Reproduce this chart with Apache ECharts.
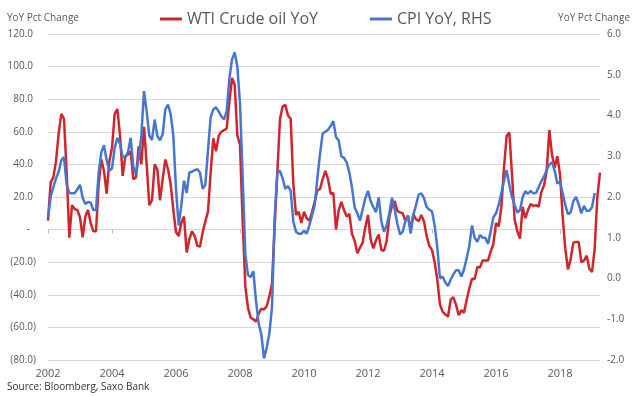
<!DOCTYPE html>
<html>
<head>
<meta charset="utf-8">
<script src="https://cdn.jsdelivr.net/npm/echarts@6/dist/echarts.min.js"></script>
<style>
  html, body { margin: 0; padding: 0; background: #fff; }
  #chart { width: 632px; height: 396px; }
</style>
</head>
<body>
<div id="chart"></div>
<script>
// monthly, Jan 2002 .. Apr 2019
const startYear = 2002
const monthCount = 208
const months = []
for (let i = 0; i < monthCount; i++) {
  const y = startYear + Math.floor(i / 12)
  const m = (i % 12) + 1
  months.push(y + '-' + (m < 10 ? '0' + m : m))
}

// WTI crude oil YoY, % (left axis)
const wtiYoY = [
  5.5, 29, 32, 42, 59, 71, 68, 35, -5, 15, 12.6, 12,
  7.5, -4.7, 8, 12, 4, -1, -1, 28, 43, 36, 22, 42,
  50, 71, 74, 58, 33, 45, 46, 48, 31, 32, 51, 40,
  63, 40, 15, 18, 40, 37, 18, 31, 43, 37, 28, 12,
  -1.5, -4, 4, 8, -14, -6, -1, -4, -9.8, -10.5, -1.6, 5,
  11, 35, 56, 48, 57.5, 60, 61, 62, 78, 93, 89, 58,
  52, 5, -35, -48, -54, -55, -56.5, -51.5, -48.5, -49, -47, -41,
  -33, 2, 35, 68, 75.5, 76.5, 70, 68, 28, 9, 11, 4,
  11, 7, 5.5, 10.6, 17, 24, 25, 31, 36, 31, 22, 22.5,
  0, 11.6, 17, 12, 8, 9.6, -2.6, -7, -14.5, -11, -8, 1.4,
  9, -6, -11.5, -6.5, -3, -12.5, -13, -7, 8, 14.5, 17.5, 11.5,
  10.6, 10, 5.5, 8.5, 0, 9.6, 6.3, 5.2, 9, 5, -4, -10,
  -12.5, -20, -31, -46, -50.5, -52, -53.3, -43, -41.4, -46, -52.5, -49.5,
  -51, -43, -36, -30.2, -30.3, -23, -23.2, -19, -19, -19, -13.5, -9,
  4, 2, 13.6, 38, 57.5, 59.5, 34, 6, -1, -5.5, 14, 7,
  12, 15.7, 14.5, 15, 14, 23, 27, 36, 61, 46, 38, 45,
  34, 8, -12, -24.5, -18, -8, -7.6, -7.6, -20, -19, -16, -24, -26, -12, 20, 35
]

// CPI YoY, % (right axis)
const cpiYoY = [
  1.5, 2.0, 2.25, 2.45, 2.62, 2.9, 2.98, 2.3, 2.1, 2.09, 2.09, 2.19,
  2.3, 1.98, 1.83, 1.88, 1.86, 1.68, 1.68, 2.6, 3.1, 3.27, 2.9, 2.65,
  2.7, 3.2, 3.45, 3.31, 2.98, 2.98, 3.1, 3.45, 2.75, 2.55, 2.97, 3.5,
  4.6, 4.1, 3.5, 3.4, 3.9, 3.5, 3.39, 3.54, 4.15, 4.27, 4.03, 3.5,
  2.2, 1.3, 1.8, 2.4, 2.1, 2.6, 2.62, 2.66, 2.68, 2.6, 2.2, 2.3,
  3.15, 3.96, 4.15, 4.2, 4.1, 3.98, 3.9, 4.1, 4.9, 5.37, 5.55, 5.2,
  4.3, 2.5, 0.6, 0.08, 0.04, 0.18, -0.55, -1.1, -1.38, -1.96, -1.7, -1.35,
  -0.7, 1.5, 2.6, 2.64, 2.45, 2.2, 2.27, 2.15, 1.4, 1.15, 1.1, 1.1,
  1.17, 1.1, 1.3, 1.54, 1.8, 2.45, 3.05, 3.56, 3.6, 3.65, 3.74, 3.86,
  3.47, 3.39, 3.0, 2.96, 2.85, 2.6, 2.23, 1.74, 1.6, 1.42, 1.7, 1.97,
  2.15, 1.9, 1.75, 1.63, 1.99, 1.4, 1.15, 1.3, 1.6, 1.98, 1.7, 1.35,
  1.08, 1.15, 1.4, 1.55, 1.1, 1.56, 1.8, 2.06, 2.09, 1.97, 1.75, 1.69,
  1.65, 1.3, 0.75, 0.0, 0.05, -0.1, -0.18, -0.03, 0.1, 0.2, 0.2, 0.05,
  0.22, 0.5, 0.8, 1.3, 1.0, 0.9, 1.07, 1.0, 1.0, 0.85, 1.15, 1.5,
  1.6, 1.8, 2.1, 2.4, 2.66, 2.3, 2.0, 1.8, 1.62, 1.68, 2.0, 2.14,
  2.08, 2.15, 2.09, 2.1, 2.24, 2.39, 2.5, 2.66, 2.8, 2.85, 2.65, 2.33,
  2.38, 2.09, 1.8, 1.58, 1.62, 1.9, 2.0, 1.83, 1.6, 1.78, 1.66, 1.66, 1.75, 2.1
]

const seriesNames = ['WTI Crude oil YoY', 'CPI YoY, RHS']
const seriesColors = ['#d0262b', '#4676cf']

const textGrey = '#595959'
const font = 'Open Sans'

let chart = echarts.init(document.getElementById('chart'), null, {renderer: 'canvas'})

const option = {
  animation: false,
  backgroundColor: '#fff',
  textStyle: {fontFamily: font},
  grid: {left: 48, right: 32, top: 34, bottom: 36},
  legend: {
    data: seriesNames,
    top: 6,
    left: 155,
    icon: 'rect',
    itemWidth: 22,
    itemHeight: 3,
    itemGap: 52,
    textStyle: {fontFamily: font, fontSize: 16, color: textGrey}
  },
  graphic: [
    {type: 'text', left: 7, top: 13, style: {text: 'YoY Pct Change', fill: textGrey, font: '10px "Open Sans"'}},
    {type: 'text', right: 2, top: 13, style: {text: 'YoY Pct Change', fill: textGrey, font: '10px "Open Sans"'}},
    {type: 'text', left: 7, top: 382, style: {text: 'Source: Bloomberg, Saxo Bank', fill: '#333', font: '10px "Open Sans"'}}
  ],
  xAxis: [
    {
      type: 'category',
      data: months,
      boundaryGap: false,
      axisLine: {show: false, onZero: false},
      axisTick: {show: false},
      splitLine: {show: false},
      axisLabel: {
        interval: 23,
        color: textGrey,
        fontSize: 11,
        margin: 8,
        formatter: v => v.slice(0, 4)
      }
    },
    {
      // thin axis line with ticks on the zero line
      type: 'category',
      data: months,
      boundaryGap: false,
      position: 'top',
      axisLine: {show: true, onZero: true, onZeroAxisIndex: 0, lineStyle: {color: '#d9d9d9'}},
      axisTick: {show: true, inside: true, interval: 23, length: 4, lineStyle: {color: '#bfbfbf'}},
      axisLabel: {show: false},
      splitLine: {show: false}
    }
  ],
  yAxis: [
    {
      type: 'value',
      position: 'left',
      min: -80,
      max: 120,
      interval: 20,
      axisLine: {show: false},
      axisTick: {show: false},
      splitLine: {lineStyle: {color: '#d9d9d9', width: 1}},
      axisLabel: {
        color: textGrey,
        fontSize: 10,
        margin: 12,
        formatter: v => {
          if (v === 0) return '-{p|}'
          if (v < 0) return '(' + (-v).toFixed(1) + ')'
          return v.toFixed(1) + '{s|}'
        },
        rich: {
          p: {width: 6},
          s: {width: 3}
        }
      }
    },
    {
      type: 'value',
      position: 'right',
      min: -2,
      max: 6,
      interval: 1,
      axisLine: {show: false},
      axisTick: {show: false},
      splitLine: {show: false},
      axisLabel: {
        color: textGrey,
        fontSize: 10,
        margin: 7,
        formatter: v => v.toFixed(1)
      }
    }
  ],
  series: [
    {
      name: seriesNames[0],
      type: 'line',
      xAxisIndex: 0,
      yAxisIndex: 0,
      data: wtiYoY,
      showSymbol: false,
      symbol: 'none',
      color: seriesColors[0],
      lineStyle: {width: 2.5, color: seriesColors[0]}
    },
    {
      name: seriesNames[1],
      type: 'line',
      xAxisIndex: 0,
      yAxisIndex: 1,
      data: cpiYoY,
      showSymbol: false,
      symbol: 'none',
      color: seriesColors[1],
      lineStyle: {width: 2.5, color: seriesColors[1]}
    }
  ]
}

chart.setOption(option)
</script>
</body>
</html>
